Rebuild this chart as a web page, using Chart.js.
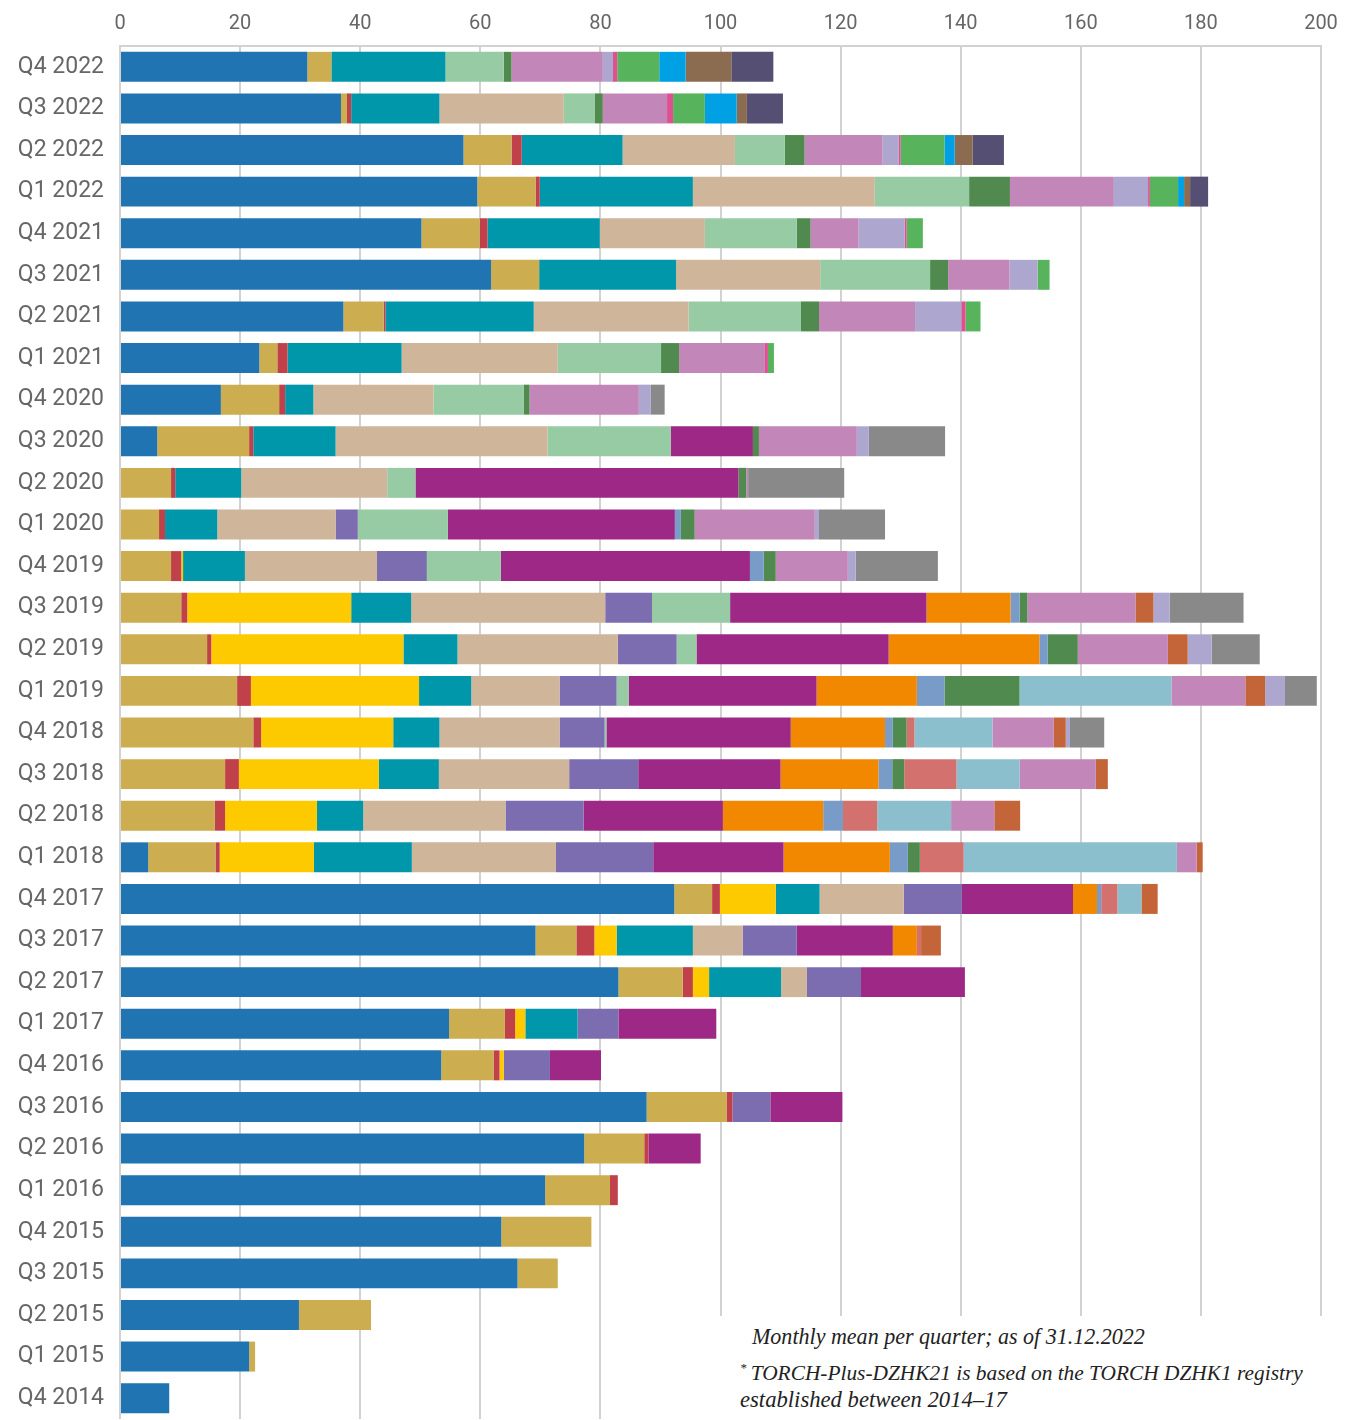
<!DOCTYPE html>
<html>
<head>
<meta charset="utf-8">
<script src="https://cdn.jsdelivr.net/npm/chart.js@4.4.1/dist/chart.umd.min.js"></script>
<style>
  html, body { margin: 0; padding: 0; background: #fff; }
  #wrap { position: relative; width: 1352px; height: 1420px; overflow: hidden; }
  #c { position: absolute; left: 0; top: 0; }
  #notebox { position: absolute; left: 700px; top: 1316px; width: 652px; height: 104px; background: #fff; }
  .note { position: absolute; font-family: "Liberation Serif", serif; font-style: italic; color: #222; white-space: nowrap; line-height: 26px; font-size: 22px; }
  .note sup { font-size: 0.6em; vertical-align: 0.6em; line-height: 0; }
</style>
</head>
<body>
<div id="wrap">
  <canvas id="c" width="1352" height="1420"></canvas>
  <div id="notebox"></div>
  <div class="note" id="n1" data-w="393" style="left:752px; top:1324px;">Monthly mean per quarter; as of 31.12.2022</div>
  <div class="note" id="n2" data-w="563" style="left:740px; top:1360px;"><sup>*</sup>&#8201;TORCH-Plus-DZHK21 is based on the TORCH DZHK1 registry</div>
  <div class="note" id="n3" data-w="267" style="left:740px; top:1387px;">established between 2014–17</div>
</div>
<script>
const quarters = ["Q4 2022","Q3 2022","Q2 2022","Q1 2022","Q4 2021","Q3 2021","Q2 2021","Q1 2021",
  "Q4 2020","Q3 2020","Q2 2020","Q1 2020","Q4 2019","Q3 2019","Q2 2019","Q1 2019",
  "Q4 2018","Q3 2018","Q2 2018","Q1 2018","Q4 2017","Q3 2017","Q2 2017","Q1 2017",
  "Q4 2016","Q3 2016","Q2 2016","Q1 2016","Q4 2015","Q3 2015","Q2 2015","Q1 2015","Q4 2014"];

const xTicks = [0,20,40,60,80,100,120,140,160,180,200];

const sBlue      = [31.2,36.8,57.2,59.5,50.2,61.8,37.2,23.2,16.8,6.2,0,0,0,0,0,0,0,0,0,4.7,92.3,69.2,83.0,54.8,53.5,87.7,77.3,70.8,63.5,66.2,29.8,21.5,8.2];
const sGold      = [4.0,1.0,8.0,9.7,9.7,8.0,6.7,3.0,9.7,15.3,8.5,6.5,8.5,10.2,14.5,19.5,22.2,17.5,15.8,11.2,6.3,6.8,10.7,9.3,8.7,13.3,10.0,10.8,15.0,6.7,12.0,1.0,0];
const sRed       = [0,0.7,1.7,0.7,1.3,0,0.3,1.7,1.0,0.7,0.7,1.0,1.7,1.0,0.7,2.3,1.3,2.3,1.7,0.7,1.3,3.0,1.7,1.7,1.0,1.0,0.7,1.3,0,0,0,0,0];
const sYellow    = [0,0,0,0,0,0,0,0,0,0,0,0,0.3,27.3,32.0,28.0,22.0,23.3,15.3,15.7,9.3,3.7,2.7,1.7,0.7,0,0,0,0,0,0,0,0];
const sTeal      = [19.0,14.7,16.8,25.5,18.7,22.8,24.7,19.0,4.7,13.7,11.0,8.7,10.3,10.0,9.0,8.7,7.7,10.0,7.7,16.3,7.3,12.7,12.0,8.7,0,0,0,0,0,0,0,0,0];
const sBeige     = [0,20.7,18.7,30.3,17.5,24.0,25.8,26.0,20.0,35.3,24.3,19.7,22.0,32.3,26.7,14.7,20.0,21.7,23.7,24.0,14.0,8.3,4.3,0,0,0,0,0,0,0,0,0,0];
const sPurple    = [0,0,0,0,0,0,0,0,0,0,0,3.7,8.3,7.8,9.8,9.5,7.5,11.5,13.0,16.2,9.7,9.0,9.0,6.8,7.7,6.3,0,0,0,0,0,0,0];
const sLtGreen   = [9.7,5.2,8.3,15.7,15.3,18.3,18.7,17.2,15.0,20.5,4.7,15.0,12.3,13.0,3.3,2.0,0.3,0,0,0,0,0,0,0,0,0,0,0,0,0,0,0,0];
const sMagenta   = [0,0,0,0,0,0,0,0,0,13.7,53.8,37.8,41.5,32.7,32.0,31.3,30.7,23.7,23.2,21.7,18.5,16.0,17.3,16.3,8.5,12.0,8.7,0,0,0,0,0,0];
const sOrange    = [0,0,0,0,0,0,0,0,0,0,0,0,0,14.0,25.1,16.7,15.7,16.3,16.7,17.7,4.0,4.0,0,0,0,0,0,0,0,0,0,0,0];
const sBlueGrey  = [0,0,0,0,0,0,0,0,0,0,0,1.0,2.3,1.5,1.4,4.6,1.3,2.3,3.3,3.0,0.7,0,0,0,0,0,0,0,0,0,0,0,0];
const sDkGreen   = [1.3,1.3,3.3,6.8,2.3,3.0,3.0,3.0,1.0,1.0,1.3,2.3,2.0,1.3,5.0,12.5,2.3,2.0,0,2.0,0,0,0,0,0,0,0,0,0,0,0,0,0];
const sSalmon    = [0,0,0,0,0,0,0,0,0,0,0,0,0,0,0,0,1.3,8.7,5.7,7.3,2.7,0.7,0,0,0,0,0,0,0,0,0,0,0];
const sLtCyan    = [0,0,0,0,0,0,0,0,0,0,0,0,0,0,0,25.3,13.0,10.5,12.3,35.5,4.0,0,0,0,0,0,0,0,0,0,0,0,0];
const sOrchid    = [15.2,10.7,13.0,17.3,8.0,10.2,16.0,14.3,18.2,16.3,0.3,20.0,12.0,18.0,15.0,12.3,10.2,12.7,7.2,3.3,0,0,0,0,0,0,0,0,0,0,0,0,0];
const sRust      = [0,0,0,0,0,0,0,0,0,0,0,0,0,3.0,3.3,3.3,2.0,2.0,4.3,1.0,2.7,3.3,0,0,0,0,0,0,0,0,0,0,0];
const sLavender  = [1.7,0,2.7,5.7,7.7,4.7,7.7,0,2.0,2.0,0,0.7,1.3,2.7,4.0,3.3,0.7,0,0,0,0,0,0,0,0,0,0,0,0,0,0,0,0];
const sPink      = [0.7,1.0,0.3,0.3,0.3,0,0.7,0.5,0,0,0,0,0,0,0,0,0,0,0,0,0,0,0,0,0,0,0,0,0,0,0,0,0];
const sGrey      = [0,0,0,0,0,0,0,0,2.3,12.7,16.0,11.0,13.7,12.3,8.0,5.3,5.7,0,0,0,0,0,0,0,0,0,0,0,0,0,0,0,0];
const sGreen     = [7.0,5.3,7.3,4.7,2.7,2.0,2.5,1.0,0,0,0,0,0,0,0,0,0,0,0,0,0,0,0,0,0,0,0,0,0,0,0,0,0];
const sCyan      = [4.4,5.3,1.7,1.0,0,0,0,0,0,0,0,0,0,0,0,0,0,0,0,0,0,0,0,0,0,0,0,0,0,0,0,0,0];
const sBrown     = [7.6,1.7,3.0,1.0,0,0,0,0,0,0,0,0,0,0,0,0,0,0,0,0,0,0,0,0,0,0,0,0,0,0,0,0,0];
const sSlate     = [7.0,6.0,5.2,3.0,0,0,0,0,0,0,0,0,0,0,0,0,0,0,0,0,0,0,0,0,0,0,0,0,0,0,0,0,0];

const seriesList = [
  ["blue", sBlue, "#1f74b1"], ["gold", sGold, "#ccad50"], ["red", sRed, "#c1414b"],
  ["yellow", sYellow, "#fdca00"], ["teal", sTeal, "#0097ab"], ["beige", sBeige, "#cfb69b"],
  ["purple", sPurple, "#7b6db0"], ["ltgreen", sLtGreen, "#96cba3"], ["magenta", sMagenta, "#9d2885"],
  ["orange", sOrange, "#f18800"], ["bluegrey", sBlueGrey, "#789bc7"], ["dkgreen", sDkGreen, "#508a4e"],
  ["salmon", sSalmon, "#d2716e"], ["ltcyan", sLtCyan, "#8cbfcd"], ["orchid", sOrchid, "#c286b8"],
  ["rust", sRust, "#c36538"], ["lavender", sLavender, "#ada7d0"], ["pink", sPink, "#e0508f"],
  ["grey", sGrey, "#898989"], ["green", sGreen, "#57b45c"], ["cyan", sCyan, "#00a1e4"],
  ["brown", sBrown, "#8b6c51"], ["slate", sSlate, "#555073"]
];

const datasets = seriesList.map(([name, vals, col]) => ({
  label: name,
  data: vals.map(v => v === 0 ? null : v),
  backgroundColor: col,
  borderWidth: 0,
  barPercentage: 0.72,
  categoryPercentage: 1.0
}));

new Chart(document.getElementById('c'), {
  type: 'bar',
  data: { labels: quarters, datasets },
  options: {
    responsive: false,
    animation: false,
    indexAxis: 'y',
    layout: { padding: { left: 0, right: 31, top: 0, bottom: 1 } },
    plugins: { legend: { display: false }, tooltip: { enabled: false } },
    scales: {
      x: {
        stacked: true, position: 'top', min: 0, max: 200,
        afterBuildTicks: s => { s.ticks = xTicks.map(v => ({ value: v })); },
        ticks: { color: '#666', font: { family: 'Roboto', size: 20 }, padding: 10 },
        grid: { color: '#d2d2d2', lineWidth: 2, drawTicks: false },
        border: { display: true, color: '#d2d2d2', width: 2 },
        afterFit: s => { s.height = 46; s.paddingLeft = 0; s.paddingRight = 0; }
      },
      y: {
        stacked: true,
        ticks: { color: '#666', font: { family: 'Roboto', size: 23 }, padding: 16, autoSkip: false },
        grid: { display: false, drawTicks: false },
        border: { display: false },
        afterFit: s => { s.width = 120; s.paddingTop = 0; s.paddingBottom = 0; }
      }
    }
  }
});

document.querySelectorAll('.note').forEach(el => {
  const target = parseFloat(el.dataset.w);
  const w = el.getBoundingClientRect().width;
  if (w > 0) el.style.fontSize = (22 * target / w).toFixed(2) + 'px';
});
</script>
</body>
</html>
